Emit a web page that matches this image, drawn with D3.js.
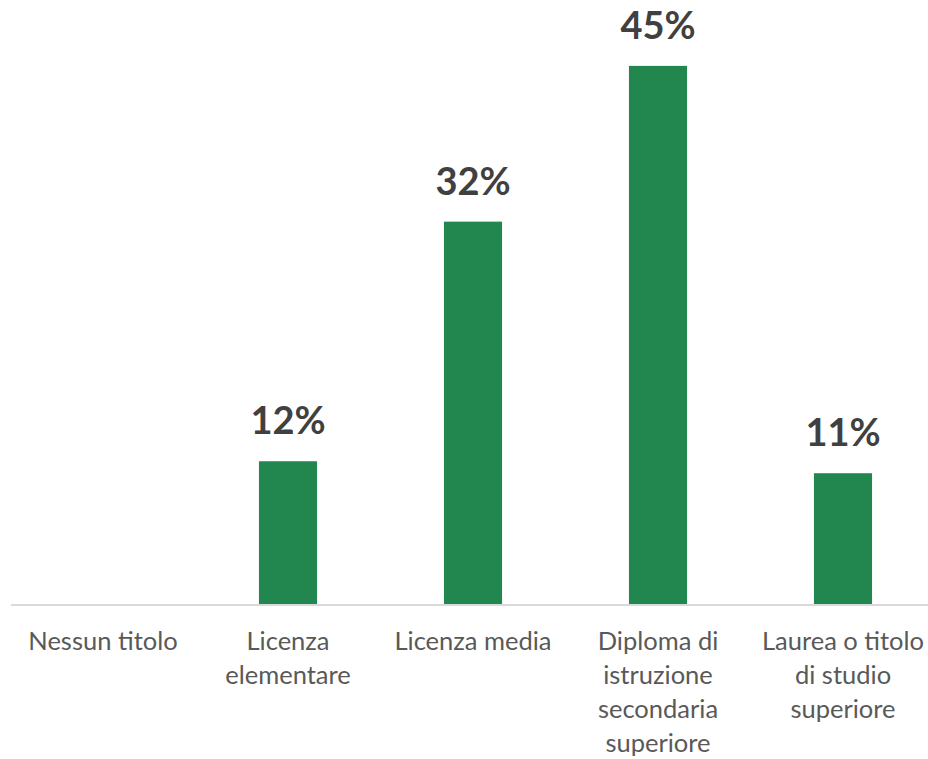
<!DOCTYPE html>
<html>
<head>
<meta charset="utf-8">
<script src="https://cdn.jsdelivr.net/npm/d3@7/dist/d3.min.js"></script>
<style>
  html, body { margin: 0; padding: 0; background: #ffffff; }
  svg { display: block; }
</style>
</head>
<body>
<svg id="chart" width="928" height="759"></svg>
<script>
// Titolo di studio: share of respondents per education level
const categories = [
  ["Nessun titolo"],
  ["Licenza", "elementare"],
  ["Licenza media"],
  ["Diploma di", "istruzione", "secondaria", "superiore"],
  ["Laurea o titolo", "di studio", "superiore"]
];
const values = [0, 12, 32, 45, 11];
const valueLabels = ["", "12%", "32%", "45%", "11%"];

const width = 928, height = 759;
const baseline = 605;
const svg = d3.select("#chart");

const x = d3.scaleBand()
  .domain(d3.range(categories.length))
  .range([10.5, 935.5])
  .paddingInner(0.686)
  .paddingOuter(0.343);

const y = d3.scaleLinear().domain([0, 50]).range([baseline, 6]);

// bars
svg.append("g").selectAll("rect")
  .data(values)
  .join("rect")
  .attr("x", (d, i) => x(i))
  .attr("width", x.bandwidth())
  .attr("y", d => y(d))
  .attr("height", d => y(0) - y(d))
  .attr("fill", "#21874f");

// category axis line
svg.append("line")
  .attr("x1", 11).attr("x2", width)
  .attr("y1", baseline).attr("y2", baseline)
  .attr("stroke", "#d9d9d9").attr("stroke-width", 2);

// value labels
svg.append("g").selectAll("text")
  .data(values)
  .join("text")
  .attr("x", (d, i) => x(i) + x.bandwidth() / 2)
  .attr("y", d => y(d) - 27)
  .attr("text-anchor", "middle")
  .attr("font-family", "Lato, 'Open Sans', sans-serif")
  .attr("font-weight", "bold")
  .attr("font-size", 38)
  .attr("fill", "#404040")
  .text((d, i) => valueLabels[i]);

// category labels, wrapped
const cat = svg.append("g").selectAll("text")
  .data(categories)
  .join("text")
  .attr("x", (d, i) => x(i) + x.bandwidth() / 2)
  .attr("y", 650)
  .attr("text-anchor", "middle")
  .attr("font-family", "Lato, 'Open Sans', sans-serif")
  .attr("font-size", 25.5)
  .attr("fill", "#595959");
cat.each(function(lines, i) {
  d3.select(this).selectAll("tspan")
    .data(lines)
    .join("tspan")
    .attr("x", x(i) + x.bandwidth() / 2)
    .attr("dy", (l, j) => j === 0 ? 0 : 34)
    .text(l => l);
});
</script>
</body>
</html>
